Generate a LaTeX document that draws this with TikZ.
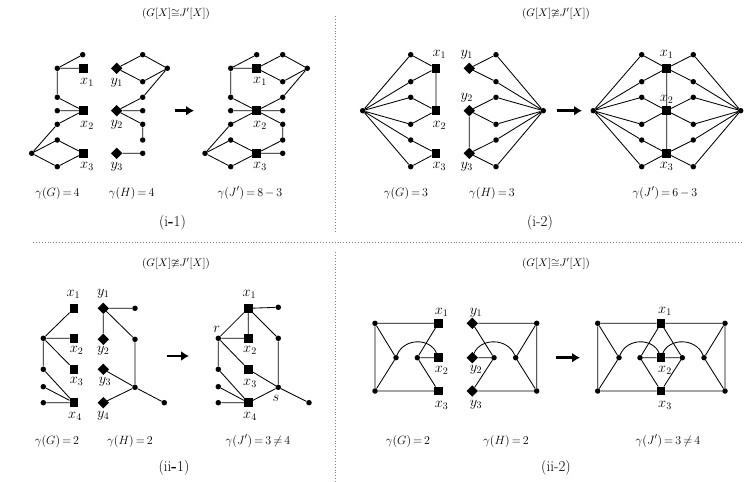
\documentclass[tikz,border=0pt]{standalone}
\usepackage{amssymb}
\usetikzlibrary{shapes.geometric,arrows.meta}
\tikzset{
  dot/.style={circle,fill=black,inner sep=0pt,minimum size=5.5pt},
  sq/.style={rectangle,fill=black,inner sep=0pt,minimum size=8.5pt},
  dm/.style={diamond,fill=black,inner sep=0pt,minimum size=11.5pt},
  lab/.style={inner sep=0pt,font=\fontsize{14}{16}\selectfont},
  gam/.style={inner sep=0pt,font=\fontsize{13}{15}\selectfont},
  ttl/.style={inner sep=0pt,font=\fontsize{11}{13}\selectfont},
  pan/.style={inner sep=0pt,font=\fontsize{15}{17}\selectfont},
  ed/.style={line width=0.85pt},
  bigarrow/.style={line width=2.8pt,-{Latex[length=8pt,width=10pt]}},
  sep/.style={gray,line width=0.9pt,dotted}
}
\begin{document}
\begin{tikzpicture}[x=1pt,y=-1pt]
\useasboundingbox (0,0) rectangle (756,482);
% separators
\coordinate (v1) at (335,16); \coordinate (v2) at (335,232);
\coordinate (v3) at (335,252); \coordinate (v4) at (335,482);
\coordinate (h1) at (33,242); \coordinate (h2) at (742,242);
\draw[sep] (v1) -- (v2); \draw[sep] (v3) -- (v4); \draw[sep] (h1) -- (h2);
% titles
\node[ttl] (t1) at (176,14) {$(G[X]{\cong}J'[X])$};
\node[ttl] (t2) at (556,14) {$(G[X]{\ncong}J'[X])$};
\node[ttl] (t3) at (176,264) {$(G[X]{\ncong}J'[X])$};
\node[ttl] (t4) at (556,264) {$(G[X]{\cong}J'[X])$};

%% ---------------- (i-1) G
\node[dot] (a1) at (82.7,54.7) {};
\node[dot] (a2) at (57.3,68.3) {};
\node[sq] (ax1) at (83.3,68.3) {};
\node[dot] (a3) at (57.3,97.3) {};
\node[dot] (a4) at (57.3,110.7) {};
\node[sq] (ax2) at (83.3,110.7) {};
\node[dot] (a5) at (57.3,124.3) {};
\node[dot] (a6) at (57.3,140) {};
\node[dot] (a7) at (31.7,153.3) {};
\node[sq] (ax3) at (83.3,153.3) {};
\node[dot] (a8) at (57.3,166.7) {};
\draw[ed] (a1)--(a2) (a2)--(ax1) (a2)--(a3) (a3)--(ax2) (a4)--(ax2) (a5)--(ax2)
  (a5)--(a7) (a7)--(a6) (a6)--(ax3) (a7)--(a8) (a8)--(ax3);
\node[lab] (alx1) at (87,82.7) {$x_1$};
\node[lab] (alx2) at (87,125) {$x_2$};
\node[lab] (alx3) at (87,166.7) {$x_3$};
% (i-1) H
\node[dm] (by1) at (116.7,68.3) {};
\node[dot] (b1) at (142.7,54.7) {};
\node[dot] (b2) at (167.3,68.3) {};
\node[dot] (b3) at (142.7,81.7) {};
\node[dm] (by2) at (116.7,110.7) {};
\node[dot] (b4) at (142.7,97.3) {};
\node[dot] (b5) at (142.7,110.7) {};
\node[dot] (b6) at (142.7,124.3) {};
\node[dot] (b7) at (142.7,140) {};
\node[dm] (by3) at (116.7,153.3) {};
\node[dot] (b8) at (142.7,153.3) {};
\draw[ed] (by1)--(b1) (b1)--(b2) (by1)--(b3) (b3)--(b2) (b2)--(b4) (b4)--(by2)
  (by2)--(b5) (by2)--(b6) (b6)--(b7) (by3)--(b8);
\node[lab] (bly1) at (116.7,82.7) {$y_1$};
\node[lab] (bly2) at (116.7,125) {$y_2$};
\node[lab] (bly3) at (116.7,166.7) {$y_3$};
% arrow
\coordinate (ar1s) at (175,110.7); \coordinate (ar1e) at (194,110.7);
\draw[bigarrow] (ar1s) -- (ar1e);
% (i-1) J'
\node[dot] (c1) at (256.7,54.7) {};
\node[dot] (c2) at (282.7,54.7) {};
\node[dot] (c3) at (230.7,68.3) {};
\node[sq] (cx1) at (256.7,68.3) {};
\node[dot] (c4) at (307.3,68.3) {};
\node[dot] (c5) at (282.7,81.7) {};
\node[dot] (c6) at (230.7,97.3) {};
\node[dot] (c7) at (282.7,97.3) {};
\node[dot] (c8) at (230.7,110.7) {};
\node[sq] (cx2) at (256.7,110.7) {};
\node[dot] (c9) at (282.7,110.7) {};
\node[dot] (c10) at (230.7,124.3) {};
\node[dot] (c11) at (282.7,124.3) {};
\node[dot] (c12) at (230.7,140) {};
\node[dot] (c13) at (282.7,140) {};
\node[dot] (c14) at (205,153.3) {};
\node[sq] (cx3) at (256.7,153.3) {};
\node[dot] (c15) at (282.7,153.3) {};
\node[dot] (c16) at (230.7,166.7) {};
\draw[ed] (c1)--(c3) (c3)--(cx1) (cx1)--(c2) (c2)--(c4) (cx1)--(c5) (c5)--(c4)
  (c4)--(c7) (c7)--(cx2) (c3)--(c6) (c6)--(cx2) (c8)--(cx2) (cx2)--(c9)
  (cx2)--(c10) (cx2)--(c11) (c10)--(c14) (c11)--(c13) (c13)--(cx3)
  (c14)--(c12) (c12)--(cx3) (c14)--(c16) (c16)--(cx3) (cx3)--(c15);
\node[lab] (clx1) at (260,81.7) {$x_1$};
\node[lab] (clx2) at (260,125) {$x_2$};
\node[lab] (clx3) at (260,166.7) {$x_3$};
\node[gam] (g1) at (57.5,193) {$\gamma(G)\,{=}\,4$};
\node[gam] (g2) at (131.7,193) {$\gamma(H)\,{=}\,4$};
\node[gam] (g3) at (250,193) {$\gamma(J')\,{=}\,8\,{-}\,3$};
\node[pan] (p1) at (172.5,223) {(i\textbf{-}1)};

%% ---------------- (i-2) G
\node[dot] (d0) at (362.7,110.7) {};
\node[dot] (d1) at (410.7,54.7) {};
\node[dot] (d2) at (410.7,81.7) {};
\node[dot] (d3) at (410.7,97.3) {};
\node[dot] (d4) at (410.7,124.3) {};
\node[dot] (d5) at (410.7,140) {};
\node[dot] (d6) at (410.7,166.7) {};
\node[sq] (dx1) at (436,68.3) {};
\node[sq] (dx2) at (436,110.7) {};
\node[sq] (dx3) at (436,153.3) {};
\draw[ed] (d0)--(d1) (d0)--(d2) (d0)--(d3) (d0)--(d4) (d0)--(d5) (d0)--(d6)
  (d1)--(dx1) (d2)--(dx1) (d3)--(dx2) (d4)--(dx2) (d5)--(dx3) (d6)--(dx3) (dx1)--(dx2);
\node[lab] (dlx1) at (439.3,54.7) {$x_1$};
\node[lab] (dlx2) at (439.3,125) {$x_2$};
\node[lab] (dlx3) at (439.3,166.7) {$x_3$};
% (i-2) H
\node[dm] (ey1) at (469.3,68.3) {};
\node[dm] (ey2) at (469.3,110.7) {};
\node[dm] (ey3) at (469.3,153.3) {};
\node[dot] (e1) at (496,54.7) {};
\node[dot] (e2) at (496,81.7) {};
\node[dot] (e3) at (496,97.3) {};
\node[dot] (e4) at (496,124.3) {};
\node[dot] (e5) at (496,140) {};
\node[dot] (e6) at (496,166.7) {};
\node[dot] (e0) at (543.3,110.7) {};
\draw[ed] (ey1)--(e1) (ey1)--(e2) (ey2)--(e3) (ey2)--(e4) (ey3)--(e5) (ey3)--(e6) (ey2)--(ey3)
  (e0)--(e1) (e0)--(e2) (e0)--(e3) (e0)--(e4) (e0)--(e5) (e0)--(e6);
\node[lab] (ely1) at (466.7,54.7) {$y_1$};
\node[lab] (ely2) at (466.7,97.3) {$y_2$};
\node[lab] (ely3) at (466.7,166.7) {$y_3$};
\coordinate (ar2s) at (556.7,110.7); \coordinate (ar2e) at (582,110.7);
\draw[bigarrow] (ar2s) -- (ar2e);
% (i-2) J'
\node[dot] (f0) at (593.3,110.7) {};
\node[dot] (f1) at (641.7,54.7) {};
\node[dot] (f2) at (641.7,81.7) {};
\node[dot] (f3) at (641.7,97.3) {};
\node[dot] (f4) at (641.7,124.3) {};
\node[dot] (f5) at (641.7,140) {};
\node[dot] (f6) at (641.7,166.7) {};
\node[sq] (fx1) at (666.7,68.3) {};
\node[sq] (fx2) at (666.7,110.7) {};
\node[sq] (fx3) at (666.7,153.3) {};
\node[dot] (g1a) at (693.3,54.7) {};
\node[dot] (g2a) at (693.3,81.7) {};
\node[dot] (g3a) at (693.3,97.3) {};
\node[dot] (g4a) at (693.3,124.3) {};
\node[dot] (g5a) at (693.3,140) {};
\node[dot] (g6a) at (693.3,166.7) {};
\node[dot] (g0) at (740.7,110.7) {};
\draw[ed] (f0)--(f1) (f0)--(f2) (f0)--(f3) (f0)--(f4) (f0)--(f5) (f0)--(f6)
  (f1)--(fx1) (f2)--(fx1) (f3)--(fx2) (f4)--(fx2) (f5)--(fx3) (f6)--(fx3)
  (fx1)--(fx2) (fx2)--(fx3)
  (fx1)--(g1a) (fx1)--(g2a) (fx2)--(g3a) (fx2)--(g4a) (fx3)--(g5a) (fx3)--(g6a)
  (g0)--(g1a) (g0)--(g2a) (g0)--(g3a) (g0)--(g4a) (g0)--(g5a) (g0)--(g6a);
\node[lab] (flx1) at (666.7,54.7) {$x_1$};
\node[lab] (flx2) at (666.7,99) {$x_2$};
\node[lab] (flx3) at (666.7,166.7) {$x_3$};
\node[gam] (g4) at (406,193) {$\gamma(G)\,{=}\,3$};
\node[gam] (g5) at (492,193) {$\gamma(H)\,{=}\,3$};
\node[gam] (g6) at (665,193) {$\gamma(J')\,{=}\,6\,{-}\,3$};
\node[pan] (p2) at (540,223) {(i-2)};

%% ---------------- (ii-1) G
\node[sq] (hx1) at (74,308.3) {};
\node[dot] (h1) at (43.3,338.3) {};
\node[sq] (hx2) at (74,338.3) {};
\node[dot] (h2) at (43.3,369.3) {};
\node[sq] (hx3) at (74,369.3) {};
\node[dot] (h3) at (43.3,386.7) {};
\node[dot] (h4) at (43.3,402.7) {};
\node[sq] (hx4) at (74,402.7) {};
\draw[ed] (h1)--(hx1) (h1)--(hx2) (h1)--(hx3) (h1)--(h2) (h2)--(hx4) (h3)--(hx4) (h4)--(hx4);
\node[lab] (hlx1) at (73.3,294) {$x_1$};
\node[lab] (hlx2) at (76.7,350.7) {$x_2$};
\node[lab] (hlx3) at (76.7,381.7) {$x_3$};
\node[lab] (hlx4) at (75,416) {$x_4$};
% (ii-1) H
\node[dm] (iy1) at (103.3,308.3) {};
\node[dot] (i1) at (135,308.3) {};
\node[dm] (iy2) at (103.3,339.3) {};
\node[dot] (i2) at (135,339.3) {};
\node[dm] (iy3) at (103.3,369.3) {};
\node[dot] (i3) at (135,387.3) {};
\node[dm] (iy4) at (103.3,402.7) {};
\node[dot] (i4) at (164.3,402.7) {};
\draw[ed] (iy1)--(i1) (iy1)--(iy2) (iy1)--(i2) (i2)--(i3) (iy3)--(i3) (iy4)--(i3) (i3)--(i4);
\node[lab] (ily1) at (103.3,294) {$y_1$};
\node[lab] (ily2) at (103.3,350.7) {$y_2$};
\node[lab] (ily3) at (105,381.7) {$y_3$};
\node[lab] (ily4) at (103.3,416) {$y_4$};
\coordinate (ar3s) at (166.7,356); \coordinate (ar3e) at (189,356);
\draw[bigarrow] (ar3s) -- (ar3e);
% (ii-1) J'
\node[sq] (jx1) at (248.3,308.3) {};
\node[dot] (j1) at (278.3,307.3) {};
\node[dot] (jr) at (218.3,338.3) {};
\node[sq] (jx2) at (248.3,338.3) {};
\node[dot] (j2) at (278.3,338.3) {};
\node[dot] (j3) at (218.3,369.3) {};
\node[sq] (jx3) at (248.3,369.3) {};
\node[dot] (j4) at (218.3,386.7) {};
\node[dot] (js) at (278.3,387.3) {};
\node[dot] (j5) at (218.3,402.7) {};
\node[sq] (jx4) at (248.3,402.7) {};
\node[dot] (j6) at (309,402.7) {};
\draw[ed] (jx1)--(j1) (jx1)--(jr) (jx1)--(jx2) (jx1)--(j2) (j2)--(js) (jr)--(jx2)
  (jr)--(jx3) (jr)--(j3) (j3)--(jx4) (j4)--(jx4) (j5)--(jx4) (jx3)--(js) (jx4)--(js) (js)--(j6);
\node[lab] (jlx1) at (249.3,294) {$x_1$};
\node[lab] (jlr) at (216.7,329.3) {$r$};
\node[lab] (jlx2) at (250,350.7) {$x_2$};
\node[lab] (jlx3) at (250,383) {$x_3$};
\node[lab] (jls) at (276,398.3) {$s$};
\node[lab] (jlx4) at (250,416) {$x_4$};
\node[gam] (g7) at (57,441) {$\gamma(G)\,{=}\,2$};
\node[gam] (g8) at (130,441) {$\gamma(H)\,{=}\,2$};
\node[gam] (g9) at (258,441) {$\gamma(J')\,{=}\,3\,{\neq}\,4$};
\node[pan] (p3) at (174,468) {(ii\textbf{-}1)};

%% ---------------- (ii-2) G
\node[dot] (k1) at (375,323.3) {};
\node[sq] (kx1) at (438.3,323.3) {};
\node[dot] (k2) at (396,357.7) {};
\node[dot] (k3) at (417.3,357.7) {};
\node[sq] (kx2) at (438.3,357.7) {};
\node[dot] (k4) at (375,391) {};
\node[sq] (kx3) at (438.3,391) {};
\draw[ed] (k1)--(kx1) (k1)--(k4) (k4)--(kx3) (k1)--(k2) (k4)--(k2) (k3)--(kx2)
  (kx1)--(k3) (k3)--(kx3);
\draw[ed] (k2) .. controls +(8,-20) and +(-8,-20) .. (kx2);
\node[lab] (klx1) at (441.7,312.7) {$x_1$};
\node[lab] (klx2) at (441.7,370) {$x_2$};
\node[lab] (klx3) at (441.7,405) {$x_3$};
% (ii-2) H
\node[dm] (ly1) at (472.3,323.3) {};
\node[dot] (l1) at (536.7,323.3) {};
\node[dm] (ly2) at (472.3,357.7) {};
\node[dot] (l2) at (494,357.7) {};
\node[dot] (l3) at (515.7,357.7) {};
\node[dm] (ly3) at (472.3,391) {};
\node[dot] (l4) at (536.7,391) {};
\draw[ed] (ly1)--(l1) (l1)--(l4) (ly3)--(l4) (l1)--(l3) (l4)--(l3) (ly2)--(l2)
  (ly1)--(l2) (ly3)--(l2);
\draw[ed] (l3) .. controls +(-8,-20) and +(8,-20) .. (ly2);
\node[lab] (lly1) at (476,312.7) {$y_1$};
\node[lab] (lly2) at (476,370) {$y_2$};
\node[lab] (lly3) at (476,405) {$y_3$};
\coordinate (ar4s) at (556,357.7); \coordinate (ar4e) at (580,357.7);
\draw[bigarrow] (ar4s) -- (ar4e);
% (ii-2) J'
\node[dot] (m1) at (597.7,323.3) {};
\node[sq] (mx1) at (661,323.3) {};
\node[dot] (m2) at (725,323.3) {};
\node[dot] (m3) at (619,357.7) {};
\node[dot] (m4) at (640,357.7) {};
\node[sq] (mx2) at (661,357.7) {};
\node[dot] (m5) at (682.3,357.7) {};
\node[dot] (m6) at (704,357.7) {};
\node[dot] (m7) at (597.7,391) {};
\node[sq] (mx3) at (661,391) {};
\node[dot] (m8) at (725,391) {};
\draw[ed] (m1)--(mx1) (mx1)--(m2) (m7)--(mx3) (mx3)--(m8) (m1)--(m7) (m2)--(m8)
  (m1)--(m3) (m7)--(m3) (m2)--(m6) (m8)--(m6) (m4)--(mx2) (mx2)--(m5)
  (mx1)--(m4) (mx1)--(m5) (m4)--(mx3) (m5)--(mx3);
\draw[ed] (m3) .. controls +(8,-20) and +(-8,-20) .. (mx2);
\draw[ed] (mx2) .. controls +(8,-20) and +(-8,-20) .. (m6);
\node[lab] (mlx1) at (665,311.7) {$x_1$};
\node[lab] (mlx2) at (665,370) {$x_2$};
\node[lab] (mlx3) at (665,405) {$x_3$};
\node[gam] (g10) at (408,441) {$\gamma(G)\,{=}\,2$};
\node[gam] (g11) at (506,441) {$\gamma(H)\,{=}\,2$};
\node[gam] (g12) at (668,441) {$\gamma(J')\,{=}\,3\,{\neq}\,4$};
\node[pan] (p4) at (556,468) {(ii-2)};
\end{tikzpicture}
\end{document}
